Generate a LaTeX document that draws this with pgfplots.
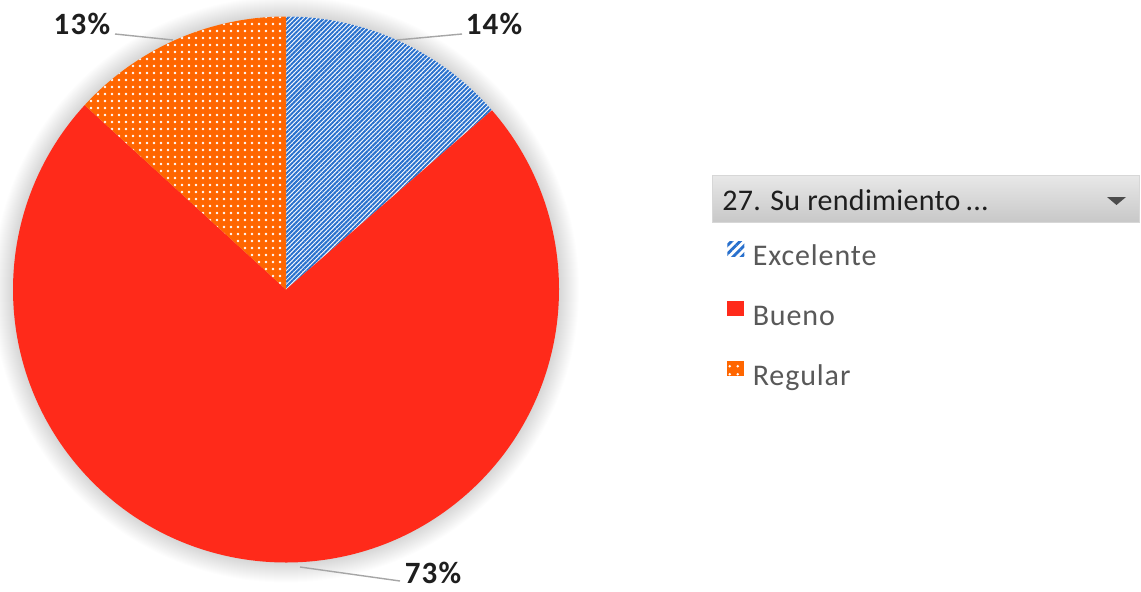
\documentclass[border=0pt]{standalone}
\usepackage{pgfplots}
\pgfplotsset{compat=1.18}
\usepackage{fontspec}
\setmainfont{Carlito}
\usetikzlibrary{patterns.meta}
\definecolor{cred}{RGB}{255,42,26}
\definecolor{corange}{RGB}{255,102,0}
\definecolor{cblue}{RGB}{40,112,205}
\definecolor{labelc}{RGB}{30,30,30}
\definecolor{legendc}{RGB}{89,89,89}
\definecolor{leaderc}{RGB}{166,166,166}
\definecolor{hdrtop}{RGB}{232,232,232}
\definecolor{hdrbot}{RGB}{200,200,200}
\definecolor{hdrborder}{RGB}{215,215,215}
% data (percent)
\def\vExc{13.6}
\def\vBue{73.2}
\def\vReg{13.2}
\pgfmathsetmacro\aA{90}
\pgfmathsetmacro\aB{\aA-3.6*\vExc}
\pgfmathsetmacro\aC{\aB-3.6*\vBue}
\pgfmathsetmacro\aD{\aC-3.6*\vReg}
\def\R{136.5pt}
\newcommand\lblfont{\fontsize{15.5pt}{18pt}\selectfont\bfseries\addfontfeature{LetterSpace=4}}
\newcommand\legfont{\fontsize{15pt}{18pt}\selectfont\addfontfeature{LetterSpace=3}}
\begin{document}
\begin{tikzpicture}
\begin{axis}[
  at={(0,0)}, anchor=south west,
  scale only axis, width=570.5pt, height=295.5pt,
  xmin=0, xmax=1141, ymin=0, ymax=591,
  hide axis, clip=false,
  legend image code/.code={\path[#1,draw=none] (0pt,0.5pt) rectangle (8.5pt,8pt);},
  legend style={at={(axis cs:721,354)}, anchor=north west, draw=none, fill=none,
    font=\legfont, text=legendc, row sep=15pt, column sep=4.2pt,
    nodes={inner sep=0pt, text height=11pt, text depth=3pt}},
  legend cell align=left,
]
\fill[white] (axis cs:0,0) rectangle (axis cs:1141,591);
% soft shadow
\pgfplotsinvokeforeach{1,...,20}{
  \fill[black, fill opacity=0.009] (axis cs:286,301.5) circle[radius={(273+#1)*0.5pt}];
}
% Excelente
\fill[white] (axis cs:286,301.5) -- ++(\aA:\R) arc[start angle=\aA, end angle=\aB, radius=\R] -- cycle;
\fill[pattern={Lines[angle=45,distance=1.6pt,line width=1pt]}, pattern color=cblue] (axis cs:286,301.5) -- ++(\aA:\R) arc[start angle=\aA, end angle=\aB, radius=\R] -- cycle;
% Bueno
\fill[cred] (axis cs:286,301.5) -- ++(\aB:\R) arc[start angle=\aB, end angle=\aC, radius=\R] -- cycle;
% Regular
\fill[corange] (axis cs:286,301.5) -- ++(\aC:\R) arc[start angle=\aC, end angle=\aD, radius=\R] -- cycle;
\fill[pattern={Dots[distance=3.5pt,radius=0.65pt]}, pattern color=white] (axis cs:286,301.5) -- ++(\aC:\R) arc[start angle=\aC, end angle=\aD, radius=\R] -- cycle;
% leader lines
\draw[leaderc, line width=0.7pt] (axis cs:397,551) -- (axis cs:462,557);
\draw[leaderc, line width=0.7pt] (axis cs:115,557) -- (axis cs:173,551);
\draw[leaderc, line width=0.7pt] (axis cs:300,24) -- (axis cs:400,10);
% data labels
\node[font=\lblfont, text=labelc] at (axis cs:494,567) {14\%};
\node[font=\lblfont, text=labelc] at (axis cs:82,567) {13\%};
\node[font=\lblfont, text=labelc] at (axis cs:433,18) {73\%};
% legend header
\shade[top color=hdrtop, bottom color=hdrbot, draw=hdrborder] (axis cs:712,416) rectangle (axis cs:1139,369);
\node[anchor=base west, inner sep=0pt, text=labelc, font=\fontsize{15pt}{18pt}\selectfont\addfontfeature{LetterSpace=1}] at (axis cs:722,381) {27. Su rendimiento\,...};
\fill[black!70] (axis cs:1107,394) -- (axis cs:1126,394) -- (axis cs:1116.5,386) -- cycle;
% legend
\addlegendimage{draw=none, fill=white, postaction={draw=none, pattern={Lines[angle=45,distance=3pt,line width=1.4pt]}, pattern color=cblue}}
\addlegendentry{Excelente}
\addlegendimage{draw=none, fill=cred}
\addlegendentry{Bueno}
\addlegendimage{draw=none, fill=corange, postaction={draw=none, pattern={Dots[distance=4pt,radius=0.75pt,xshift=1pt,yshift=1pt]}, pattern color=white}}
\addlegendentry{Regular}
\end{axis}
\pgfresetboundingbox
\useasboundingbox (0,0) rectangle (570.5pt,295.5pt);
\end{tikzpicture}
\end{document}
